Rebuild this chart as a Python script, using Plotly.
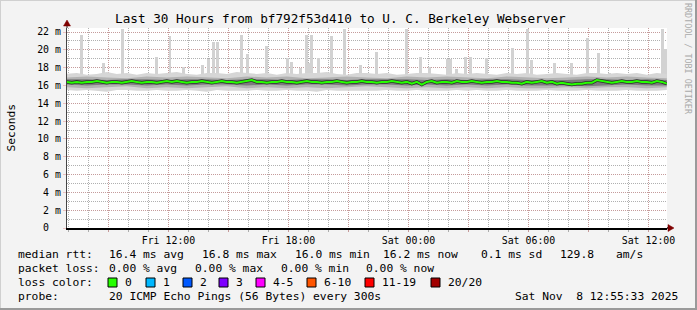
import plotly.graph_objects as go
import pandas as pd

# ---------------- data ----------------
TITLE = "Last 30 Hours from bf792f53d410 to U. C. Berkeley Webserver"
T_START = "2025-11-07 06:55:33"
T_END = "2025-11-08 12:55:33"

# median RTT (ms), 15-minute steps
median_ms = [
    16.4, 16.3, 16.4, 16.3, 16.4, 16.4, 16.5, 16.4, 16.3, 16.4, 16.4, 16.3, 16.4, 16.5, 16.4, 16.3, 16.4, 16.4, 16.3, 16.4, 16.5,
    16.4, 16.5, 16.4, 16.3, 16.4, 16.4, 16.5, 16.4, 16.3, 16.4, 16.5, 16.4, 16.4, 16.3, 16.4, 16.5, 16.6, 16.4, 16.4, 16.3, 16.4, 16.4, 16.5, 16.4,
    16.4, 16.3, 16.4, 16.5, 16.4, 16.4, 16.3, 16.4, 16.4, 16.5, 16.4, 16.3, 16.4, 16.4, 16.5, 16.4, 16.4, 16.3, 16.4, 16.4, 16.5, 16.4, 16.3, 16.4,
    16.2, 16.4, 16.1, 16.4, 16.5, 16.3, 16.4, 16.4, 16.3, 16.5, 16.4, 16.4, 16.5, 16.4, 16.3, 16.4, 16.4, 16.5, 16.4, 16.4, 16.3, 16.3, 16.2, 16.4,
    16.3, 16.4, 16.5, 16.3, 16.4, 16.2, 16.3, 16.2, 16.1, 16.2, 16.2, 16.3, 16.3, 16.6, 16.5, 16.4, 16.3, 16.4, 16.5, 16.4, 16.4, 16.5, 16.4, 16.4,
    16.3, 16.5, 16.4, 16.2,
]
# outer smoke (min / max of the usual pings), 30-minute steps
smoke_hi = [
    17.3, 17.4, 17.2, 17.3, 17.5, 17.3, 17.4, 17.2, 17.4, 17.3,
    17.4, 17.5, 17.3, 17.2, 17.4, 17.4, 17.3, 17.5, 17.4, 17.3,
    17.4, 17.2, 17.4, 17.3, 17.4, 17.4, 17.5, 17.3, 17.2, 17.4,
    17.4, 17.3, 17.4, 17.2, 17.3, 17.4, 17.4, 17.3, 17.2, 17.4,
    17.3, 17.4, 17.3, 17.2, 17.4, 17.3, 17.4, 17.2, 17.3, 17.4,
    17.3, 17.2, 17.4, 17.4, 17.3, 17.4, 17.3, 17.4, 17.2, 17.4,
    17.3,
]
smoke_lo = [
    15.5, 15.4, 15.5, 15.4, 15.3, 15.5, 15.5, 15.4, 15.4, 15.5,
    15.4, 15.4, 15.5, 15.4, 15.3, 15.5, 15.4, 15.4, 15.4, 15.5,
    15.4, 15.4, 15.5, 15.4, 15.4, 15.3, 15.5, 15.4, 15.4, 15.4,
    15.4, 15.4, 15.5, 15.4, 15.4, 15.5, 15.4, 15.4, 15.4, 15.5,
    15.4, 15.5, 15.4, 15.4, 15.5, 15.4, 15.4, 15.4, 15.5, 15.4,
    15.4, 15.4, 15.5, 15.4, 15.4, 15.4, 15.5, 15.4, 15.4, 15.4,
    15.5,
]
# middle smoke, hourly steps
mid_hi = [16.9, 17.0, 16.9, 16.8, 17.0, 16.9, 17.0, 16.9, 16.8, 17.0,
          16.9, 17.0, 16.8, 16.9, 17.0, 16.9, 16.8, 17.0, 16.9, 17.0,
          16.9, 16.8, 17.0, 16.9, 16.8, 16.9, 17.0, 16.9, 17.0, 16.9, 16.8]
mid_lo = [15.8, 15.7, 15.8, 15.9, 15.7, 15.8, 15.7, 15.8, 15.9, 15.7,
          15.8, 15.7, 15.8, 15.7, 15.8, 15.9, 15.8, 15.7, 15.8, 15.7,
          15.8, 15.7, 15.8, 15.7, 15.7, 15.8, 15.7, 15.8, 15.8, 15.7, 15.8]
# dense core smoke, hourly steps
core_hi = [16.7, 16.7, 16.6, 16.7, 16.7, 16.6, 16.7, 16.7, 16.6, 16.7,
           16.7, 16.6, 16.7, 16.7, 16.6, 16.7, 16.7, 16.7, 16.6, 16.7,
           16.6, 16.7, 16.7, 16.6, 16.6, 16.6, 16.7, 16.7, 16.6, 16.7, 16.6]
core_lo = [16.1, 16.0, 16.1, 16.1, 16.0, 16.1, 16.0, 16.1, 16.1, 16.0,
           16.1, 16.0, 16.1, 16.1, 16.0, 16.1, 16.1, 16.0, 16.1, 16.0,
           16.1, 16.0, 16.1, 16.0, 16.0, 16.0, 15.9, 16.0, 16.1, 16.0, 16.0]
# occasional slow pings (max RTT spikes)
spike_times = [
    "2025-11-07 07:40", "2025-11-07 08:46", "2025-11-07 09:43", "2025-11-07 11:25", "2025-11-07 12:05",
    "2025-11-07 12:46", "2025-11-07 13:43", "2025-11-07 14:01", "2025-11-07 14:16", "2025-11-07 14:28",
    "2025-11-07 15:40", "2025-11-07 15:58", "2025-11-07 16:55", "2025-11-07 17:58", "2025-11-07 18:10",
    "2025-11-07 18:37", "2025-11-07 18:55", "2025-11-07 19:01", "2025-11-07 19:10", "2025-11-07 19:31",
    "2025-11-07 20:10", "2025-11-07 20:49", "2025-11-07 21:37", "2025-11-07 22:25", "2025-11-07 23:55",
    "2025-11-08 00:37", "2025-11-08 01:04", "2025-11-08 01:58", "2025-11-08 02:07", "2025-11-08 02:25",
    "2025-11-08 02:52", "2025-11-08 03:07", "2025-11-08 03:55", "2025-11-08 05:13", "2025-11-08 05:58",
    "2025-11-08 06:10", "2025-11-08 07:19", "2025-11-08 08:10", "2025-11-08 08:58", "2025-11-08 09:31",
    "2025-11-08 10:04", "2025-11-08 12:43", "2025-11-08 12:52",
]
spike_ms = [
    21.7, 18.5, 22.3, 19.2, 21.6,
    18.1, 18.3, 19.0, 20.9, 20.9,
    21.7, 19.5, 20.4, 19.1, 18.6,
    18.0, 21.7, 18.5, 21.7, 19.1,
    21.6, 22.3, 18.3, 19.8, 22.3,
    19.2, 18.1, 19.0, 19.0, 17.8,
    19.2, 19.2, 19.1, 20.2, 22.3,
    18.9, 18.5, 18.5, 21.3, 19.6,
    17.4, 22.3, 20.1,
]
spike_base = 16.5

x_tickvals = ["2025-11-07 09:00", "2025-11-07 12:00", "2025-11-07 15:00", "2025-11-07 18:00",
              "2025-11-07 21:00", "2025-11-08 00:00", "2025-11-08 03:00", "2025-11-08 06:00",
              "2025-11-08 09:00", "2025-11-08 12:00"]
x_ticktext = ["", "Fri 12:00", "", "Fri 18:00", "", "Sat 00:00", "", "Sat 06:00", "", "Sat 12:00"]
y_tickvals = [0, 2, 4, 6, 8, 10, 12, 14, 16, 18, 20, 22]
y_ticktext = ["0\u00a0\u00a0", "2 m", "4 m", "6 m", "8 m", "10 m", "12 m", "14 m", "16 m", "18 m", "20 m", "22 m"]

legend_rtt = ["median rtt:", "16.4 ms avg", "16.8 ms max", "16.0 ms min", "16.2 ms now", "0.1 ms sd", "129.8", "am/s"]
legend_loss = ["packet loss:", "0.00 % avg", "0.00 % max", "0.00 % min", "0.00 % now"]
loss_labels = ["0", "1", "2", "3", "4-5", "6-10", "11-19", "20/20"]
loss_colors = ["#26ff00", "#00b8ff", "#0059ff", "#7e00ff", "#ff00ff", "#ff5500", "#ff0000", "#a10000"]
probe_text = ["probe:", "20 ICMP Echo Pings (56 Bytes) every 300s", "Sat Nov\u00a0 8 12:55:33 2025"]

# ---------------- layout geometry (pixels) ----------------
W, H = 697, 310
L, T, PW, PH = 67, 28, 600, 200
MONO = "DejaVu Sans Mono"

def px(x):
    return (x - L) / PW

def py(y):
    return (T + PH - y) / PH

med_t = pd.date_range("2025-11-07 06:55", periods=len(median_ms), freq="15min")
smoke_t = pd.date_range("2025-11-07 06:55", periods=len(smoke_hi), freq="30min")
hour_t = pd.date_range("2025-11-07 06:55", periods=len(core_hi), freq="60min")

fig = go.Figure()
line0 = dict(width=0, color="rgba(0,0,0,0)")

def band(t, lo, hi, color):
    fig.add_trace(go.Scatter(x=t, y=lo, mode="lines", line=line0, hoverinfo="skip"))
    fig.add_trace(go.Scatter(x=t, y=hi, mode="lines", line=line0, fill="tonexty",
                             fillcolor=color, hoverinfo="skip"))

band(smoke_t, smoke_lo, smoke_hi, "#d6d6d6")
band(hour_t, mid_lo, mid_hi, "#b2b2b2")
band(hour_t, core_lo, core_hi, "#7c7c7c")
fig.add_trace(go.Bar(x=pd.to_datetime(spike_times), y=[v - spike_base for v in spike_ms], base=spike_base,
                     width=330000, marker=dict(color="#d2d2d2", line=dict(width=0)), hoverinfo="skip"))
fig.add_trace(go.Scatter(x=med_t, y=median_ms, mode="lines", line=dict(color="#2e2e2e", width=3.5), hoverinfo="skip"))
fig.add_trace(go.Scatter(x=med_t, y=median_ms, mode="lines", line=dict(color="#26ff00", width=2), hoverinfo="skip"))

major_grid = "rgba(225,130,130,0.45)"
minor_grid = "rgba(150,150,150,0.75)"

fig.update_xaxes(
    type="date", range=[T_START, T_END], tickmode="array", tickvals=x_tickvals, ticktext=x_ticktext,
    showgrid=True, gridcolor=major_grid, griddash="1px,1px", gridwidth=1,
    ticks="outside", ticklen=2, tickcolor=major_grid,
    tickfont=dict(family=MONO, size=9.9, color="#000"),
    showline=True, linecolor="#000", linewidth=1.5, zeroline=False,
    minor=dict(tickmode="linear", dtick=3600000, tick0="2025-11-07 00:00", showgrid=True, gridcolor=minor_grid,
               gridwidth=1, griddash="1px,1px", ticks="outside", ticklen=2, tickcolor=minor_grid),
)
fig.update_yaxes(
    range=[0, 22.45], tickmode="array", tickvals=y_tickvals, ticktext=y_ticktext,
    showgrid=True, gridcolor=major_grid, griddash="1px,1px", gridwidth=1,
    ticks="outside", ticklen=3, tickcolor=major_grid,
    tickfont=dict(family=MONO, size=9.9, color="#000"),
    showline=True, linecolor="#444", linewidth=1.2, zeroline=False,
    minor=dict(tickmode="linear", tick0=0, dtick=1, showgrid=True, gridcolor=minor_grid,
               gridwidth=1, griddash="1px,1px"),
)

ann = []
ann.append(dict(text=TITLE, x=px(340), y=py(18.5), font=dict(family=MONO, size=12.7, color="#000")))
ann.append(dict(text="Seconds", x=px(10.5), y=py(128), textangle=-90, font=dict(family=MONO, size=11.3, color="#000")))
ann.append(dict(text="RRDTOOL / TOBI OETIKER", x=px(688), y=py(59), textangle=90,
                font=dict(family=MONO, size=8.4, color="#aaaaaa")))
for a in ann:
    a.update(xref="paper", yref="paper", showarrow=False, xanchor="center", yanchor="middle")

LEG = dict(family=MONO, size=11.3, color="#000")
def leg(text, x, y):
    ann.append(dict(text=text, x=px(x), y=py(y), xref="paper", yref="paper", showarrow=False,
                    xanchor="left", yanchor="middle", font=LEG))

rtt_x = [16, 107, 200, 293, 381, 479, 558, 614]
for t, x in zip(legend_rtt, rtt_x):
    leg(t, x, 254.5)
loss_x = [16, 107, 193, 279, 364]
for t, x in zip(legend_loss, loss_x):
    leg(t, x, 268.5)
leg("loss color:", 16, 282.5)
sw_x = [108, 146, 183, 219, 256, 307, 365, 431]
shapes = []
for lab, col, x in zip(loss_labels, loss_colors, sw_x):
    shapes.append(dict(type="rect", xref="paper", yref="paper", x0=px(x), x1=px(x + 9), y0=py(287), y1=py(278),
                       fillcolor=col, line=dict(color="#000", width=1)))
    leg(lab, x + 15, 282.5)
probe_x = [16, 107, 513]
for t, x in zip(probe_text, probe_x):
    leg(t, x, 296.5)

# axis arrows and extensions
AR = "#7f0000"
shapes.append(dict(type="line", xref="paper", yref="paper", x0=px(667), x1=px(669), y0=py(228), y1=py(228),
                   line=dict(color="#000", width=1.5)))
shapes.append(dict(type="path", xref="paper", yref="paper",
                   path=f"M {px(668)} {py(224.5)} L {px(674)} {py(228)} L {px(668)} {py(231.5)} Z",
                   fillcolor=AR, line=dict(color=AR, width=0.5)))
shapes.append(dict(type="line", xref="paper", yref="paper", x0=px(67), x1=px(67), y0=py(28), y1=py(25),
                   line=dict(color="#444", width=1.2)))
shapes.append(dict(type="path", xref="paper", yref="paper",
                   path=f"M {px(63.5)} {py(26)} L {px(67)} {py(20)} L {px(70.5)} {py(26)} Z",
                   fillcolor=AR, line=dict(color=AR, width=0.5)))
# 3D frame
shapes.append(dict(type="line", xref="paper", yref="paper", x0=px(0), x1=px(697), y0=py(0.5), y1=py(0.5),
                   line=dict(color="#d0d0d0", width=1)))
shapes.append(dict(type="line", xref="paper", yref="paper", x0=px(0.5), x1=px(0.5), y0=py(0), y1=py(310),
                   line=dict(color="#d0d0d0", width=1)))
shapes.append(dict(type="line", xref="paper", yref="paper", x0=px(696), x1=px(696), y0=py(0), y1=py(310),
                   line=dict(color="#9a9a9a", width=2)))
shapes.append(dict(type="line", xref="paper", yref="paper", x0=px(0), x1=px(697), y0=py(309), y1=py(309),
                   line=dict(color="#9a9a9a", width=2)))

fig.update_layout(
    width=W, height=H, margin=dict(l=L, r=W - L - PW, t=T, b=H - T - PH),
    paper_bgcolor="#f3f3f3", plot_bgcolor="#ffffff", showlegend=False,
    barmode="overlay", bargap=0, annotations=ann, shapes=shapes,
    font=dict(family=MONO, color="#000"),
)
fig.write_html("out.html")
